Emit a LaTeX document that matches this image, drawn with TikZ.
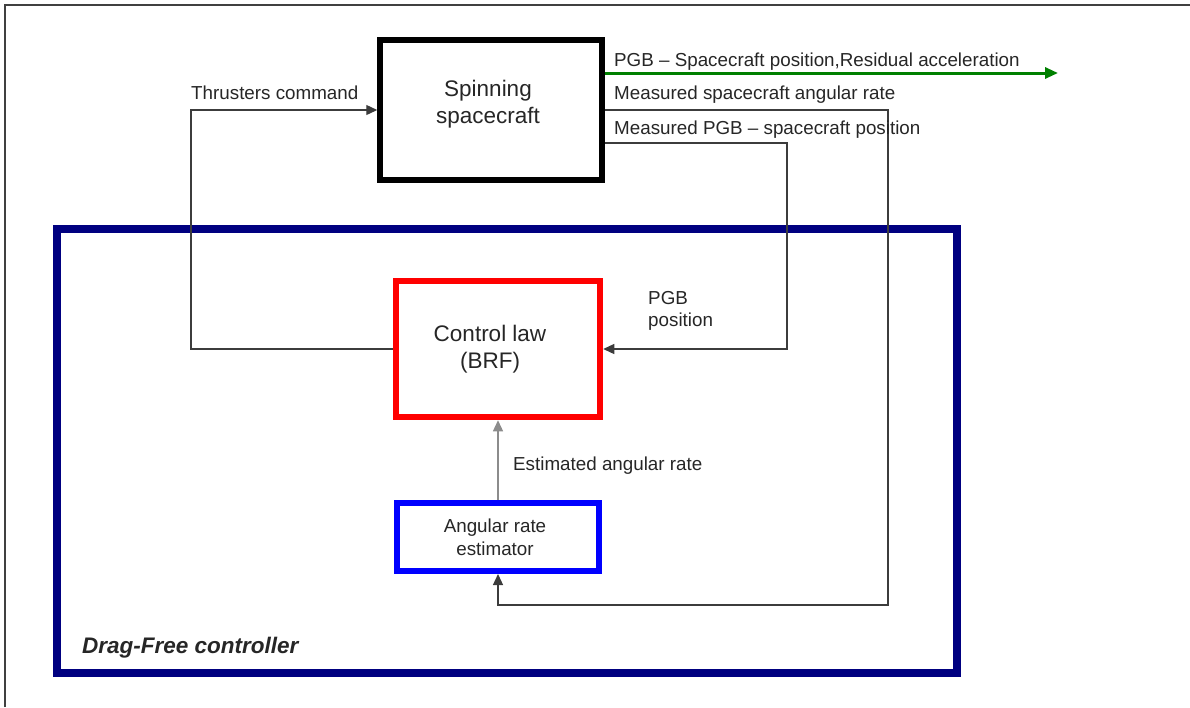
\documentclass[tikz,border=0pt]{standalone}
\usepackage{fontspec}
\setmainfont{Liberation Sans}
\usetikzlibrary{arrows.meta}

\definecolor{framenavy}{RGB}{0,0,128}
\definecolor{outgreen}{RGB}{0,128,0}
\definecolor{wire}{RGB}{60,60,60}

\tikzset{
  blockbox/.style={draw, rectangle, fill=white, inner sep=0pt},
  wirestyle/.style={draw=wire, line width=1.3pt},
  tip/.style={-{Triangle[length=11pt,width=10pt]}},
  smalltxt/.style={font=\fontsize{18.8}{21}\selectfont, inner sep=0pt, text=black!85},
  bigtxt/.style={font=\fontsize{22.5}{27}\selectfont, inner sep=0pt, align=center, text=black!85},
}

\begin{document}
\begin{tikzpicture}[x=1pt, y=-1pt]
\useasboundingbox (0,0) rectangle (1190,707);

% page frame (top and left edges)
\draw[line width=1.8pt, black!75] (5,707) -- (5,5) -- (1190,5);

% controller frame
\node[blockbox, fill=none, draw=framenavy, line width=8pt,
      minimum width=900pt, minimum height=444pt] (dfc) at (507,451) {};
\node[anchor=base west, inner sep=0pt,
      font=\fontsize{22.5}{24}\selectfont\bfseries\itshape, text=black!85]
      (dfclabel) at (82,653) {Drag-Free controller};

% blocks
\node[blockbox, line width=5.5pt, minimum width=222pt, minimum height=140pt]
      (sc) at (491,110) {};
\node[bigtxt] (sctxt) at (488,104) {Spinning\\spacecraft};

\node[blockbox, draw=red, line width=6.5pt, minimum width=204pt, minimum height=136pt]
      (cl) at (498,349) {};
\node[bigtxt] (cltxt) at (490,349) {Control law\\(BRF)};

\node[blockbox, draw=blue, line width=6pt, minimum width=202pt, minimum height=68pt]
      (est) at (498,537) {};
\node[smalltxt, align=center, font=\fontsize{18.8}{23}\selectfont] (esttxt) at (495,537) {Angular rate\\estimator};

% bend points
\coordinate (tc) at (191,110);
\coordinate (out) at (1058,73);
\coordinate (m1) at (888,110);
\coordinate (m1b) at (888,605);
\coordinate (m2) at (787,143);

% spacecraft output
\draw[outgreen, line width=3pt, -{Triangle[length=13pt,width=11pt]}] (out -| sc.east) -- (out);

% measured angular rate -> estimator
\draw[wirestyle, tip] (m1 -| sc.east) -- (m1) -- (m1b) -| (est.south);

% measured position -> control law
\draw[wirestyle, tip] (m2 -| sc.east) -- (m2) |- (cl.east);

% estimate -> control law
\draw[wirestyle, draw=black!45, tip] (est.north) -- (cl.south);

% control law -> thrusters
\draw[wirestyle, tip] (cl.west) -| (tc) -- (sc.west);

% labels
\node[smalltxt, anchor=base west] (lthr) at (191,99) {Thrusters command};
\node[smalltxt, anchor=base west] (lout) at (614,66) {PGB – Spacecraft position,Residual acceleration};
\node[smalltxt, anchor=base west] (lrate) at (614,99) {Measured spacecraft angular rate};
\node[smalltxt, anchor=base west] (lpos) at (614,134) {Measured PGB – spacecraft position};
\node[smalltxt, anchor=north west, align=left, font=\fontsize{18.8}{22}\selectfont] (lpgb) at (648,291) {PGB\\position};
\node[smalltxt, anchor=base west] (lest) at (513,470) {Estimated angular rate};

\end{tikzpicture}
\end{document}
